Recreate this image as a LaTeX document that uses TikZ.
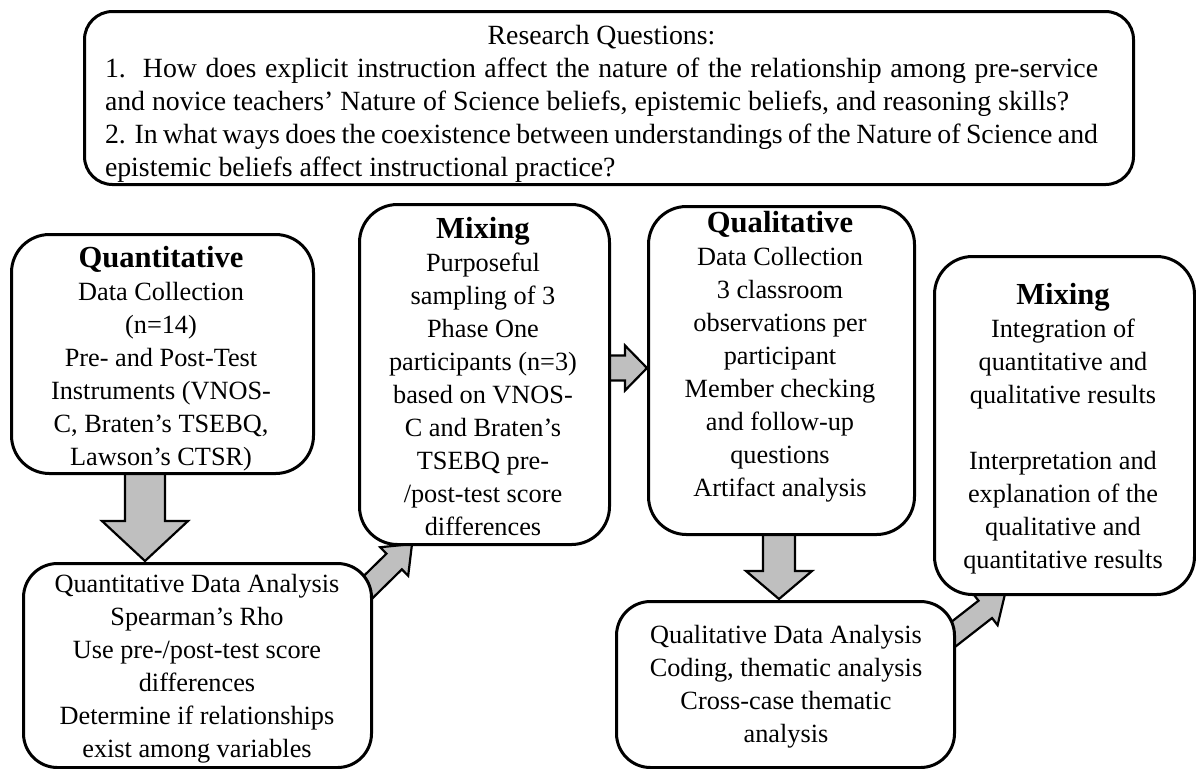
\documentclass[tikz,border=0pt]{standalone}
\usepackage{fontspec}
\setmainfont{Liberation Serif}
\usetikzlibrary{calc,backgrounds}
\definecolor{arrowgray}{RGB}{191,191,191}
\newcommand{\fs}{\fontsize{13.15pt}{16.5pt}\selectfont}
\newcommand{\fst}{\fontsize{13.9pt}{16.5pt}\selectfont}
\newcommand{\hd}{\fontsize{15.3pt}{16.5pt}\selectfont\bfseries}
% block arrow: from, to, half shaft, half head, head length
\newcommand{\blockarrow}[5]{%
  \coordinate (bh) at ($(#2)!#5!(#1)$);
  \draw[blk] ($(#1)!#3!90:(#2)$) -- ($(bh)!#3!-90:(#1)$) -- ($(bh)!#4!-90:(#1)$) -- (#2)
    -- ($(bh)!#4!90:(#1)$) -- ($(bh)!#3!90:(#1)$) -- ($(#1)!#3!-90:(#2)$) -- cycle;}
\begin{document}
\begin{tikzpicture}[x=0.5pt,y=-0.5pt,
  box/.style={draw, line width=1.5pt, fill=white, inner sep=0pt, anchor=north west, rounded corners=19pt},
  txt/.style={align=center, inner sep=0pt, font=\fs},
  blk/.style={draw, line width=1.1pt, fill=arrowgray, line join=miter}]
\useasboundingbox (0,0) rectangle (1196,768);

% boxes
\node[box, rounded corners=14pt, minimum width=524.5pt, minimum height=86.5pt] (top) at (83,10) {};
\node[box, minimum width=151pt, minimum height=119.5pt] (quant) at (10,233) {};
\node[box, minimum width=125pt, minimum height=170pt] (mix1) at (358,203) {};
\node[box, minimum width=133pt, minimum height=164pt] (qual) at (647,205) {};
\node[box, minimum width=130pt, minimum height=169pt] (mix2) at (933,255) {};
\node[box, rounded corners=17pt, minimum width=174pt, minimum height=102pt] (qanal) at (22,562) {};
\node[box, rounded corners=17pt, minimum width=169pt, minimum height=83pt] (lanal) at (615,600) {};

% texts
\node[txt] (toptext) at (601.5,104) {\parbox{496.5pt}{\fst\setlength{\parindent}{0pt}\setlength{\parskip}{0pt}%
\centerline{Research Questions:}
\hbox to\linewidth{1.\ \ How does explicit instruction affect the nature of the relationship among pre-service}
\hbox{and novice teachers’ Nature of Science beliefs, epistemic beliefs, and reasoning skills?}
\hbox to\linewidth{2. In what ways does the coexistence between understandings of the Nature of Science and}
\hbox{epistemic beliefs affect instructional practice?}}};

\node[txt] (quanttext) at (161,359) {{\hd Quantitative}\\ Data Collection\\ (n=14)\\ Pre- and Post-Test\\ Instruments (VNOS-\\ C, Braten’s TSEBQ,\\ Lawson’s CTSR)};
\node[txt] (mix1text) at (483,376.5) {{\hd Mixing}\\ Purposeful\\ sampling of 3\\ Phase One\\ participants (n=3)\\ based on VNOS-\\ C and Braten’s\\ TSEBQ pre-\\ /post-test score\\ differences};
\node[txt] (qualtext) at (780,357) {{\hd Qualitative}\\ Data Collection\\ 3 classroom\\ observations per\\ participant\\ Member checking\\ and follow-up\\ questions\\ Artifact analysis};
\node[txt] (mix2text) at (1063,428.5) {{\hd Mixing}\\ Integration of\\ quantitative and\\ qualitative results\\[16.5pt] Interpretation and\\ explanation of the\\ qualitative and\\ quantitative results};
\node[txt] (qanaltext) at (197,668.5) {Quantitative Data Analysis\\ Spearman’s Rho\\ Use pre-/post-test score\\ differences\\ Determine if relationships\\ exist among variables};
\node[txt] (lanaltext) at (786,686.5) {Qualitative Data Analysis\\ Coding, thematic analysis\\ Cross-case thematic\\ analysis};

% connector end points
\coordinate (a1s) at ($(quant.south west)+(135,-4)$);
\coordinate (a1e) at ($(qanal.north west)+(123,-1)$);
\coordinate (a2s) at ($(qanal.north east)+(-18,38)$);
\coordinate (a2e) at ($(mix1.south west)+(54,-2)$);
\coordinate (a3s) at ($(mix1.north east)+(-4,165)$);
\coordinate (a3e) at ($(qual.north west)+(0,163)$);
\coordinate (a4s) at ($(qual.south west)+(132,-4)$);
\coordinate (a4e) at ($(lanal.north west)+(164,-1)$);
\coordinate (a5s) at ($(lanal.north east)+(-10,40)$);
\coordinate (a5e) at ($(mix2.south west)+(72,-2)$);

\begin{pgfonlayer}{background}
\blockarrow{a1s}{a1e}{10pt}{21.5pt}{20pt}
\blockarrow{a2s}{a2e}{5.5pt}{10pt}{12.5pt}
\blockarrow{a3s}{a3e}{6.25pt}{11.25pt}{11pt}
\blockarrow{a4s}{a4e}{8pt}{16.5pt}{14pt}
\blockarrow{a5s}{a5e}{5.5pt}{10pt}{12.5pt}
\end{pgfonlayer}
\end{tikzpicture}
\end{document}
